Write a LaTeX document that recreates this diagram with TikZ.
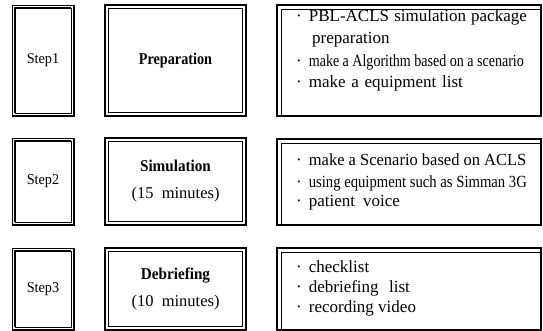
\documentclass[tikz,border=0pt]{standalone}
\usepackage{fontspec}
\setmainfont{Liberation Serif}
\usepackage{graphicx}
\begin{document}
\begin{tikzpicture}[x=1pt,y=-1pt,
  thinline/.style={line width=0.5pt},
  thickline/.style={line width=1.3pt},
  boxnode/.style={inner sep=0pt, outer sep=0pt, anchor=north west},
  stepbox/.style={boxnode, draw, thinline, minimum width=62pt, font=\fontsize{15}{17}\selectfont},
  midbox/.style={boxnode, draw, thickline, minimum width=141pt, align=center, font=\fontsize{16.5}{27}\selectfont},
  infobox/.style={boxnode, draw, line width=1.1pt, minimum width=264pt},
  infoline/.style={anchor=base west, inner sep=0pt, font=\fontsize{17}{20}\selectfont}
]
\useasboundingbox (0,0) rectangle (543,331);

% step boxes
\node[stepbox, minimum height=111pt] (s1) at (12,5) {\scalebox{0.95}[1]{Step1}};
\node[stepbox, minimum height=87pt] (s2) at (12,138) {\scalebox{0.95}[1]{Step2}};
\node[stepbox, minimum height=82pt] (s3) at (12,248) {\scalebox{0.95}[1]{Step3}};

% middle boxes
\node[midbox, minimum height=111pt] (m1) at (105,5) {\scalebox{0.86}[1]{\textbf{Preparation}}};
\node[midbox, minimum height=87pt] (m2) at (105,138) {\scalebox{0.92}[1]{\textbf{Simulation}}\\(15\ \ minutes)};
\node[midbox, minimum height=82pt] (m3) at (105,248) {\scalebox{0.92}[1]{\textbf{Debriefing}}\\(10\ \ minutes)};

% info boxes
\node[infobox, minimum height=111pt] (i1) at (277,5) {};
\node[infobox, minimum height=86pt] (i2) at (277,139) {};
\node[infobox, minimum height=82pt] (i3) at (277,248) {};

% double borders of step boxes
\foreach \n in {s1,s2,s3}{
  \draw[thinline] ([shift={(3,3)}]\n.north west) rectangle ([shift={(-3,-3)}]\n.south east);
  \draw[thickline] ([shift={(3,-3)}]\n.south west) -- ([shift={(3,3)}]\n.north west) -- ([shift={(-3,3)}]\n.north east);
  \draw[thickline] (\n.south west) -- (\n.south east) -- (\n.north east);
}
% double borders of middle boxes
\foreach \n in {m1,m2,m3}{
  \draw[thinline] ([shift={(3.5,3.5)}]\n.north west) rectangle ([shift={(-3.5,-3.5)}]\n.south east);
}
% inner lines of info boxes
\foreach \n in {i1,i2,i3}{
  \draw[thinline] ([shift={(4,-1)}]\n.south west) -- ([shift={(4,4)}]\n.north west) -- ([shift={(-1,4)}]\n.north east);
}

% info texts
\node[infoline] (t11) at (296,22) {·\hspace{7pt}\makebox[218pt][s]{PBL-ACLS simulation package}};
\node[infoline] (t12) at (312,44) {preparation};
\node[infoline] (t13) at (296,67) {·\hspace{7pt}\scalebox{0.825}[1]{make a Algorithm based on a scenario}};
\node[infoline] (t14) at (296,88) {·\hspace{7pt}\makebox[154pt][s]{make a equipment list}};

\node[infoline] (t21) at (296,166) {·\hspace{7pt}\scalebox{0.97}[1]{make a Scenario based on ACLS}};
\node[infoline] (t22) at (296,187) {·\hspace{7pt}\scalebox{0.863}[1]{using equipment such as Simman 3G}};
\node[infoline] (t23) at (296,207) {·\hspace{7pt}\makebox[91pt][s]{patient voice}};

\node[infoline] (t31) at (296,272) {·\hspace{7pt}checklist};
\node[infoline] (t32) at (296,292) {·\hspace{7pt}\makebox[101pt][s]{debriefing list}};
\node[infoline] (t33) at (296,312) {·\hspace{7pt}recording video};
\end{tikzpicture}
\end{document}
